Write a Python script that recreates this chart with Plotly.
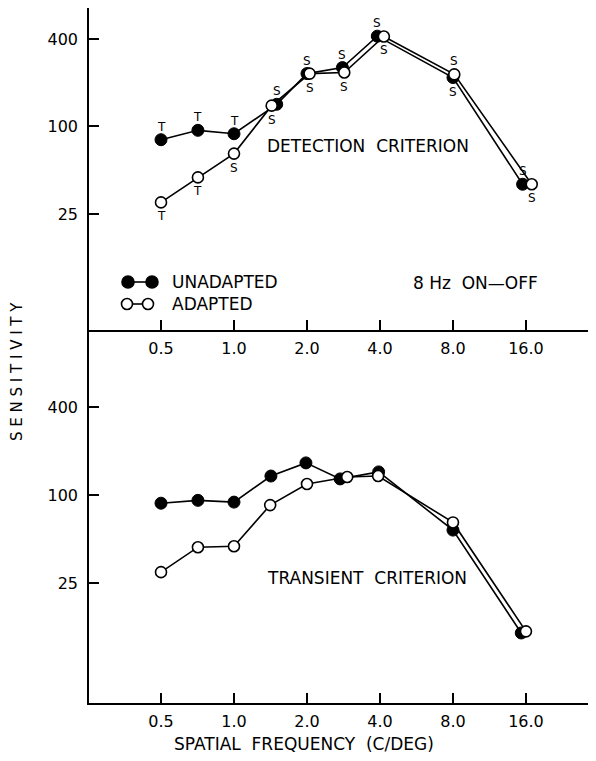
import math
import plotly.graph_objects as go

# ---------------- data ----------------
tick_vals_x = [0.5, 1, 2, 4, 8, 16]
tick_text_x = ["0.5", "1.0", "2.0", "4.0", "8.0", "16.0"]
tick_vals_y = [25, 100, 400]
tick_text_y = ["25", "100", "400"]

# Detection criterion (top panel)
det_unadapted_x = [0.5, 0.71, 1.0, 1.5, 2.0, 2.8, 3.9, 8.0, 15.5]
det_unadapted_y = [81, 94, 89, 142, 231, 254, 418, 217, 40]
det_unadapted_lbl = ["T", "T", "T", "S", "S", "S", "S", "S", "S"]
det_unadapted_pos = ["up", "up", "up", "up", "up", "up", "up", "down", "up"]

det_adapted_x = [0.5, 0.71, 1.0, 1.43, 2.05, 2.85, 4.15, 8.1, 16.9]
det_adapted_y = [30, 44.6, 65, 139, 231, 235, 416, 228, 40]
det_adapted_lbl = ["T", "T", "S", "S", "S", "S", "S", "S", "S"]
det_adapted_pos = ["down", "down", "down", "down", "down", "down", "down", "up", "down"]

# Transient criterion (bottom panel)
tr_unadapted_x = [0.5, 0.71, 1.0, 1.42, 1.98, 2.74, 3.95, 8.0, 15.3]
tr_unadapted_y = [88, 92, 89.5, 135, 166, 129, 144, 57.6, 11.4]
tr_adapted_x = [0.5, 0.71, 1.0, 1.41, 2.0, 2.93, 3.93, 8.0, 16.0]
tr_adapted_y = [29.7, 44, 44.7, 85.4, 119, 133, 135, 65, 11.7]

# ---------------- figure ----------------
OFF = 8  # page body margin of the browser
W, H = 580, 745
ML, MR, MT = 81, 0, 0
PH = 695
MB = H - MT - PH
PW = W - ML - MR
split = 373 / PH

FONT = "DejaVu Sans"

fig = go.Figure()

filled = dict(symbol="circle", size=12, color="black", line=dict(color="black", width=1))
hollow = dict(symbol="circle", size=11, color="white", line=dict(color="black", width=1.6))
line = dict(color="black", width=1.6)

fig.add_trace(go.Scatter(x=det_unadapted_x, y=det_unadapted_y, mode="lines+markers",
                         marker=filled, line=line, xaxis="x2", yaxis="y2", showlegend=False))
fig.add_trace(go.Scatter(x=det_adapted_x, y=det_adapted_y, mode="lines+markers",
                         marker=hollow, line=line, xaxis="x2", yaxis="y2", showlegend=False))
fig.add_trace(go.Scatter(x=tr_unadapted_x, y=tr_unadapted_y, mode="lines+markers",
                         marker=filled, line=line, xaxis="x", yaxis="y", showlegend=False))
fig.add_trace(go.Scatter(x=tr_adapted_x, y=tr_adapted_y, mode="lines+markers",
                         marker=hollow, line=line, xaxis="x", yaxis="y", showlegend=False))

annotations = []
for xs, ys, lbls, poss in [(det_unadapted_x, det_unadapted_y, det_unadapted_lbl, det_unadapted_pos),
                           (det_adapted_x, det_adapted_y, det_adapted_lbl, det_adapted_pos)]:
    for xv, yv, l, p in zip(xs, ys, lbls, poss):
        annotations.append(dict(x=math.log10(xv), y=math.log10(yv), xref="x2", yref="y2",
                                text=l, showarrow=False, xanchor="center", yanchor="middle",
                                yshift=13 if p == "up" else -14,
                                font=dict(family=FONT, size=12, color="black")))


def px(xs):
    return (xs - OFF - ML) / PW


def py(ys):
    return (MT + PH - (ys - OFF)) / PH


def label(x, y, text, size=17, xanchor="center", angle=0):
    return dict(x=px(x), y=py(y), xref="paper", yref="paper", text=text, showarrow=False,
                xanchor=xanchor, yanchor="middle", textangle=angle,
                font=dict(family=FONT, size=size, color="black"))


annotations += [
    label(368, 146, "DETECTION  CRITERION"),
    label(367, 578, "TRANSIENT  CRITERION"),
    label(475, 283, "8 Hz  ON—OFF"),
    label(170, 282, "UNADAPTED", xanchor="left"),
    label(170, 304, "ADAPTED", xanchor="left"),
    label(17, 372, "S E N S I T I V I T Y", size=15, angle=-90),
    label(304, 744, "SPATIAL  FREQUENCY  (C/DEG)", size=17),
]

# legend glyphs
shapes = []
shapes.append(dict(type="line", xref="paper", yref="paper", x0=px(128), x1=px(152),
                   y0=py(282), y1=py(282), line=dict(color="black", width=1.6)))
shapes.append(dict(type="line", xref="paper", yref="paper", x0=px(127), x1=px(148),
                   y0=py(304), y1=py(304), line=dict(color="black", width=1.6)))
for cx, cy, fill in [(128, 282, "black"), (152, 282, "black"), (127, 304, "white"), (148, 304, "white")]:
    r = 6 if fill == "black" else 5.5
    shapes.append(dict(type="circle", xref="paper", yref="paper", xsizemode="pixel", ysizemode="pixel",
                       xanchor=px(cx), yanchor=py(cy), x0=-r, x1=r, y0=-r, y1=r,
                       fillcolor=fill, line=dict(color="black", width=1.6), layer="above"))

tick_font = dict(family=FONT, size=16, color="black")
xcommon = dict(type="log", range=[-0.598, 1.460], tickvals=tick_vals_x, ticktext=tick_text_x,
               ticks="inside", ticklen=10, tickwidth=1.6, tickcolor="black",
               showline=True, linecolor="black", linewidth=1.6, showgrid=False, zeroline=False,
               tickfont=tick_font, ticklabelstandoff=3)
ycommon = dict(type="log", tickvals=tick_vals_y, ticktext=tick_text_y,
               ticks="inside", ticklen=10, tickwidth=1.6, tickcolor="black",
               showline=True, linecolor="black", linewidth=1.6, showgrid=False, zeroline=False,
               tickfont=tick_font, ticklabelstandoff=6)

fig.update_layout(
    width=W, height=H, margin=dict(l=ML, r=MR, t=MT, b=MB, pad=0),
    paper_bgcolor="white", plot_bgcolor="white",
    xaxis=dict(**xcommon, domain=[0, 1], anchor="y"),
    xaxis2=dict(**xcommon, domain=[0, 1], anchor="y2"),
    yaxis=dict(**ycommon, domain=[0, split], range=[0.578, 3.129], anchor="x"),
    yaxis2=dict(**ycommon, domain=[split, 1], range=[0.599, 2.815], anchor="x2"),
    annotations=annotations, shapes=shapes, showlegend=False,
)

fig.write_html("out.html")
